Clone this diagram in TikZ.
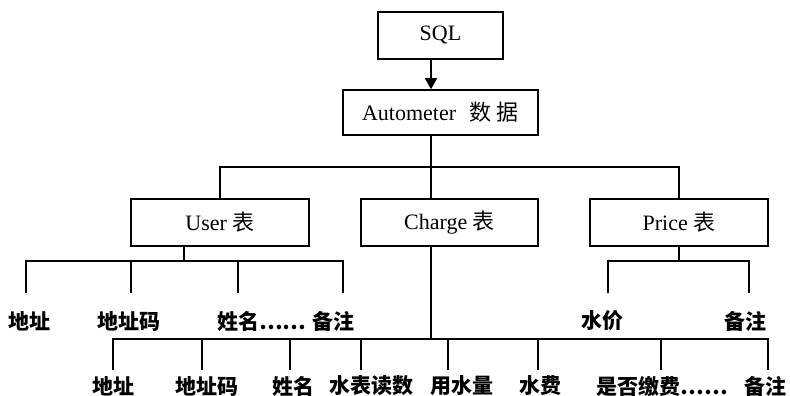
\documentclass[tikz,border=0pt]{standalone}
\usepackage{fontspec}
\setmainfont{Liberation Serif}
\newfontfamily\cjk{Noto Sans CJK SC}
\usetikzlibrary{arrows.meta}
\begin{document}
\begin{tikzpicture}[x=1pt,y=-1pt,
  box/.style={draw,line width=1.6pt,minimum height=47pt,inner sep=0pt,
    font=\fontsize{22}{26}\selectfont},
  leaf/.style={inner sep=0pt,font=\cjk\bfseries\fontsize{21}{25}\selectfont},
  wire/.style={line width=1.7pt,line join=miter}]
\useasboundingbox (0,0) rectangle (790,396);

% boxes
\node[box,minimum width=125pt] (sql) at (440.5,35.5) {SQL};
\node[box,minimum width=195pt,minimum height=45pt] (auto) at (440.5,112.5)
  {Autometer\hspace{0.6em}{\cjk 数\hspace{0.25em}据}};
\node[box,minimum width=178pt] (user)   at (220,222.5) {User {\cjk 表}};
\node[box,minimum width=177pt] (charge) at (449.5,222.5) {Charge {\cjk 表}};
\node[box,minimum width=178pt] (price)  at (679,222.5) {Price {\cjk 表}};

% main trunk
\coordinate (trunk) at (431,167);
\draw[wire,-{Triangle[length=11pt,width=12pt]}] (sql.south -| trunk) -- (auto.north -| trunk);
\draw[wire] (auto.south -| trunk) -- (trunk);
\draw[wire] (user.north) -- (user.north |- trunk) -- (price.north |- trunk) -- (price.north);
\draw[wire] (trunk) -- (charge.north -| trunk);

% User fields
\coordinate (ubus) at (184,261);
\coordinate (ua) at (26,293);
\coordinate (ub) at (131,293);
\coordinate (uc) at (238,293);
\coordinate (ud) at (343,293);
\draw[wire] (user.south -| ubus) -- (ubus);
\draw[wire] (ua) -- (ua |- ubus) -- (ud |- ubus) -- (ud);
\draw[wire] (ub) -- (ub |- ubus);
\draw[wire] (uc) -- (uc |- ubus);
\node[leaf] (u1) at (30,321) {地址};
\node[leaf] (u2) at (129,321) {地址码};
\node[leaf,anchor=west] (u3) at (217,321) {姓名……};
\node[leaf] (u4) at (333,321) {备注};

% Price fields
\coordinate (pbus) at (679,261);
\coordinate (pa) at (608,293);
\coordinate (pb) at (749,293);
\draw[wire] (price.south -| pbus) -- (pbus);
\draw[wire] (pa) -- (pa |- pbus) -- (pb |- pbus) -- (pb);
\node[leaf] (p1) at (602,321) {水价};
\node[leaf] (p2) at (745,321) {备注};

% Charge fields
\coordinate (cbus) at (431,339);
\draw[wire] (charge.south -| cbus) -- (cbus);
\coordinate (ca) at (113,370);
\coordinate (cb) at (202,370);
\coordinate (cc) at (290,370);
\coordinate (cd) at (361,370);
\coordinate (ce) at (448,370);
\coordinate (cf) at (538,370);
\coordinate (cg) at (661,370);
\coordinate (ch) at (768,370);
\draw[wire] (ca) -- (ca |- cbus) -- (ch |- cbus) -- (ch);
\foreach \c in {cb,cc,cd,ce,cf,cg} \draw[wire] (\c) -- (\c |- cbus);
\node[leaf] (c1) at (113,386) {地址};
\node[leaf] (c2) at (207,386) {地址码};
\node[leaf] (c3) at (293,386) {姓名};
\node[leaf] (c4) at (371,386) {水表读数};
\node[leaf] (c5) at (462,386) {用水量};
\node[leaf] (c6) at (540,386) {水费};
\node[leaf] (c7) at (662,386) {是否缴费……};
\node[leaf] (c8) at (765,386) {备注};
\end{tikzpicture}
\end{document}
